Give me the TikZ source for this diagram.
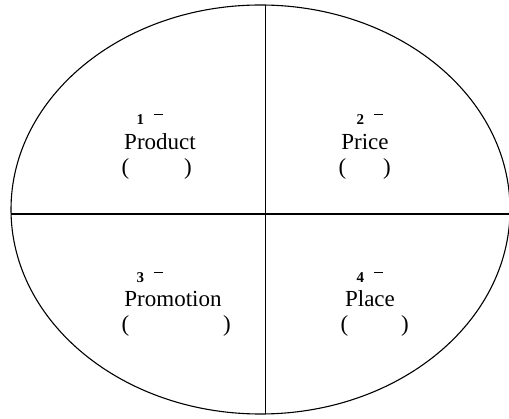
\documentclass[tikz,border=0pt]{standalone}
\usepackage{fontspec}
\setmainfont{Liberation Serif}

\newcommand{\numtag}[1]{\textbf{#1}\hspace{10pt}\raisebox{10.5pt}{\rule{9pt}{0.8pt}}}

\begin{document}
\begin{tikzpicture}[x=1pt, y=-1pt, line width=1.1pt]
    \tikzstyle{namebox}=[inner sep=0pt, anchor=base, font=\fontsize{23}{27}\selectfont]
    \tikzstyle{numbox}=[inner sep=0pt, anchor=base west, font=\fontsize{15}{18}\selectfont]
    \tikzstyle{parbox}=[inner sep=0pt, anchor=base west, font=\fontsize{23}{27}\selectfont]

    \useasboundingbox (0,0) rectangle (509,419);

    \coordinate (centre) at (260.5,209.5);
    \draw (centre) ellipse [x radius=249.5, y radius=204.5];

    \begin{scope}
        \clip (centre) ellipse [x radius=249.5, y radius=204.5];
        \draw (265.5,0) -- (265.5,419);
        \draw (0,214) -- (520,214);
    \end{scope}

    \node[namebox] (product) at (160,150) {Product};
    \node[namebox] (price) at (365,150) {Price};
    \node[namebox] (promotion) at (173,307) {Promotion};
    \node[namebox] (place) at (370,307) {Place};

    \node[numbox] (num1) at (136,125) {\numtag{1}};
    \node[numbox] (num2) at (356,125) {\numtag{2}};
    \node[numbox] (num3) at (136,283) {\numtag{3}};
    \node[numbox] (num4) at (356,283) {\numtag{4}};

    \node[parbox] (par1) at (121,175) {(\hspace{55pt})};
    \node[parbox] (par2) at (338,175) {(\hspace{37pt})};
    \node[parbox] (par3) at (121,332) {(\hspace{94pt})};
    \node[parbox] (par4) at (340,332) {(\hspace{53pt})};
\end{tikzpicture}
\end{document}
